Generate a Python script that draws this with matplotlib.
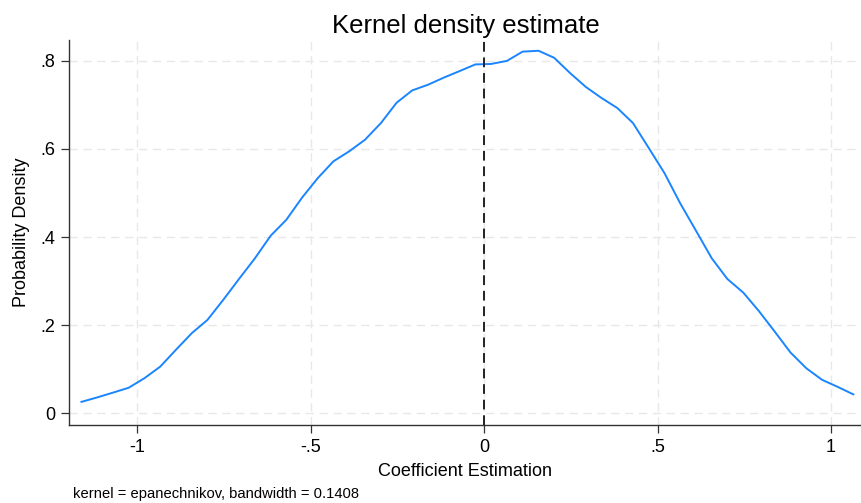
import matplotlib.pyplot as plt

plt.rcParams['font.family'] = ['Liberation Sans', 'DejaVu Sans']

# Kernel density evaluated on 50 grid points
coef = [-1.160, -1.115, -1.069, -1.024, -0.978, -0.933, -0.888, -0.842, -0.797, -0.751,
        -0.706, -0.661, -0.615, -0.570, -0.524, -0.479, -0.434, -0.388, -0.343, -0.297,
        -0.252, -0.207, -0.161, -0.116, -0.070, -0.025, 0.020, 0.066, 0.111, 0.157,
        0.202, 0.247, 0.293, 0.338, 0.384, 0.429, 0.474, 0.520, 0.565, 0.611,
        0.656, 0.701, 0.747, 0.792, 0.838, 0.883, 0.929, 0.974, 1.019, 1.064]
density = [0.026, 0.036, 0.047, 0.058, 0.080, 0.106, 0.144, 0.182, 0.212, 0.258,
           0.305, 0.351, 0.403, 0.439, 0.490, 0.534, 0.572, 0.595, 0.621, 0.659,
           0.705, 0.733, 0.746, 0.762, 0.777, 0.792, 0.793, 0.800, 0.821, 0.823,
           0.807, 0.773, 0.741, 0.716, 0.693, 0.659, 0.603, 0.545, 0.477, 0.414,
           0.352, 0.305, 0.274, 0.232, 0.185, 0.138, 0.102, 0.076, 0.060, 0.043]

xticks = [-1, -0.5, 0, 0.5, 1]
xtick_labels = ['-1', '-.5', '0', '.5', '1']
yticks = [0, 0.2, 0.4, 0.6, 0.8]
ytick_labels = ['0', '.2', '.4', '.6', '.8']

fig = plt.figure(figsize=(8.62, 5.03), dpi=100)
ax = fig.add_axes([0.080, 0.155, 0.920, 0.766])

ax.plot(coef, density, color='#1A85FF', linewidth=1.4, zorder=3)
ax.axvline(0, color='#222222', linestyle=(0, (5, 3)), linewidth=1.4, zorder=4)

ax.set_xlim(-1.196, 1.089)
ax.set_ylim(-0.0266, 0.848)

ax.set_xticks(xticks)
ax.set_xticklabels(xtick_labels)
ax.set_yticks(yticks)
ax.set_yticklabels(ytick_labels)
ax.tick_params(axis='both', labelsize=13, length=6, width=0.9, color='#333333', pad=4)

ax.grid(True, color='#E8E8E8', linestyle=(0, (6, 4)), linewidth=1.0, zorder=0)

for side in ['top', 'right']:
    ax.spines[side].set_visible(False)
for side in ['left', 'bottom']:
    ax.spines[side].set_color('#333333')
    ax.spines[side].set_linewidth(1.0)

ax.set_title('Kernel density estimate', fontsize=18.5, pad=5)
ax.set_xlabel('Coefficient Estimation', fontsize=13, labelpad=5)
ax.set_ylabel('Probability Density', fontsize=13, labelpad=7)

fig.text(0.085, 0.004, 'kernel = epanechnikov, bandwidth = 0.1408', fontsize=10.6,
         ha='left', va='bottom')

fig.savefig('out.png', dpi=100)
